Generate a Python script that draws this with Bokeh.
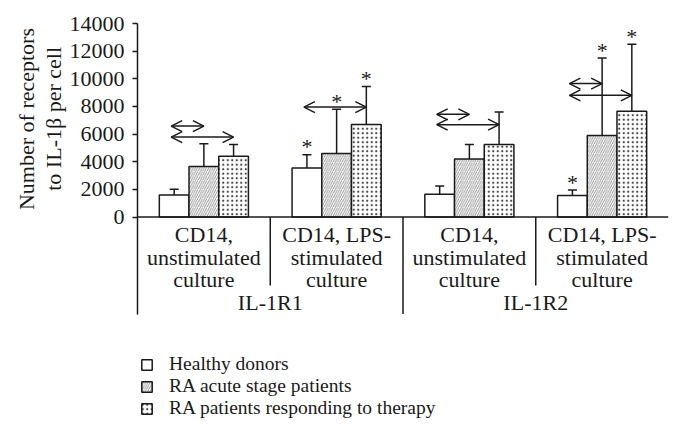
import math
from bokeh.plotting import figure
from bokeh.models import (Range1d, ColumnDataSource, Whisker, TeeHead, Arrow, OpenHead,
                          FixedTicker, Legend, LegendItem, Title, Span)
from bokeh.core.properties import value
from bokeh.embed import file_html
from bokeh.resources import INLINE

# ---------------- data ----------------
categories = ["CD14,\nunstimulated\nculture", "CD14, LPS-\nstimulated\nculture",
              "CD14,\nunstimulated\nculture", "CD14, LPS-\nstimulated\nculture"]
groups = ["IL-1R1", "IL-1R2"]
series = ["Healthy donors", "RA acute stage patients", "RA patients responding to therapy"]

healthy = [1600, 3550, 1650, 1550]
healthy_lower = [1250, 2900, 1400, 1200]
healthy_upper = [2000, 4500, 2250, 1950]

acute = [3650, 4600, 4200, 5900]
acute_lower = [3000, 3500, 2950, 3800]
acute_upper = [5300, 7800, 5250, 11500]

therapy = [4400, 6700, 5250, 7650]
therapy_lower = [3550, 4850, 3550, 4800]
therapy_upper = [5250, 9450, 7600, 12500]

healthy_star = [False, True, False, True]
acute_star = [False, True, False, True]
therapy_star = [False, True, False, True]

# comparison brackets: category index, from series, to series, level
cmp_category = [0, 0, 1, 2, 2, 3, 3]
cmp_from = [0, 0, 0, 0, 0, 0, 0]
cmp_to = [1, 2, 2, 1, 2, 1, 2]
cmp_level = [6580, 5780, 7950, 7430, 6680, 9650, 8800]

y_ticks = [0, 2000, 4000, 6000, 8000, 10000, 12000, 14000]
y_title = ["Number of receptors", "to IL-1\u03b2 per cell"]

# ---------------- layout ----------------
W, H = 682, 446
LEFT, RIGHT, TOP = 137, 14, 23
Y0_PX = 216.5
FONT = "Liberation Serif"
INK = "#1a1a1a"

units_per_px = 14000 / (Y0_PX - TOP)
y_start = -(H - Y0_PX) * units_per_px
frame_w = W - LEFT - RIGHT
x_per_px = 4 / frame_w

p = figure(width=W, height=H, x_range=Range1d(0, 4), y_range=Range1d(y_start, 14000),
           output_backend="svg", toolbar_location=None, x_axis_location=None,
           min_border_left=LEFT, min_border_right=RIGHT, min_border_top=TOP,
           min_border_bottom=0)
p.grid.visible = False
p.outline_line_color = None

ax = p.yaxis[0]
ax.ticker = FixedTicker(ticks=y_ticks)
ax.bounds = (-97 * units_per_px, 14000)
ax.axis_line_width = 1.5
ax.axis_line_color = INK
ax.major_tick_line_color = INK
ax.major_tick_line_width = 1.5
ax.major_tick_out = 5
ax.major_tick_in = 0
ax.minor_tick_out = 0
ax.minor_tick_in = 0
ax.major_label_standoff = 8
ax.major_label_text_font = FONT
ax.major_label_text_font_size = "22px"
ax.major_label_text_color = INK

bar_w = 29.7 * x_per_px
offsets = [-bar_w, 0.0, bar_w]
styles = [
    dict(fill_color="white"),
    dict(fill_color="white", hatch_pattern="/", hatch_scale=4.5, hatch_color="#666666",
         hatch_weight=0.7),
    dict(fill_color="white", hatch_pattern=".", hatch_scale=4.5, hatch_color="#444444",
         hatch_weight=0.5),
]
means = [healthy, acute, therapy]
lowers = [healthy_lower, acute_lower, therapy_lower]
uppers = [healthy_upper, acute_upper, therapy_upper]
stars = [healthy_star, acute_star, therapy_star]

renderers = []
wx, wl, wu = [], [], []
sx, sy = [], []
for s in range(3):
    xs = [i + 0.5 + offsets[s] for i in range(4)]
    r = p.vbar(x=xs, top=means[s], bottom=0, width=bar_w, line_color=INK,
               line_width=1.5, **styles[s])
    renderers.append(r)
    wx += xs
    wl += lowers[s]
    wu += uppers[s]
    for i in range(4):
        if stars[s][i]:
            sx.append(xs[i])
            sy.append(uppers[s][i])

wsrc = ColumnDataSource(dict(base=wx, lower=wl, upper=wu))
p.add_layout(Whisker(base="base", lower="lower", upper="upper", source=wsrc,
                     dimension="height", line_width=1.5, line_color=INK,
                     upper_head=TeeHead(size=9, line_width=1.5, line_color=INK),
                     lower_head=TeeHead(size=9, line_width=1.5, line_color=INK)))

# asterisks
p.text(x=sx, y=sy, text=["*"] * len(sx), text_font=value(FONT), text_font_size="22px",
       text_align="center", text_baseline="alphabetic", y_offset=-8, text_color=INK)

# comparison arrows
ax0 = [c + 0.5 + offsets[f] - 3 * x_per_px for c, f in zip(cmp_category, cmp_from)]
ax1 = [c + 0.5 + offsets[t] for c, t in zip(cmp_category, cmp_to)]
asrc = ColumnDataSource(dict(x0=ax0, x1=ax1, y=cmp_level))
p.add_layout(Arrow(x_start="x0", y_start="y", x_end="x1", y_end="y", source=asrc,
                   line_width=1.5, line_color=INK,
                   start=OpenHead(size=11, line_width=1.5, line_color=INK),
                   end=OpenHead(size=11, line_width=1.5, line_color=INK)))

# x axis line and category dividers
p.add_layout(Span(location=0, dimension="width", line_color=INK, line_width=1.5))
p.segment(x0=[1, 3], y0=[0, 0], x1=[1, 3], y1=[-68.5 * units_per_px] * 2,
          line_color=INK, line_width=1.5)
p.segment(x0=[2], y0=[0], x1=[2], y1=[-97 * units_per_px], line_color=INK, line_width=1.5)

# category labels
p.text(x=[i + 0.5 for i in range(4)], y=[0] * 4, text=categories, text_font=value(FONT),
       text_font_size="22px", text_align="center", text_baseline="middle",
       text_line_height=0.9, y_offset=40, text_color=INK)
p.text(x=[1, 3], y=[0, 0], text=groups, text_font=value(FONT), text_font_size="22px",
       text_align="center", text_baseline="middle", y_offset=85, text_color=INK)

# y-axis title (two lines, nearest line added first)
for t, off in [(y_title[1], 23.5), (y_title[0], 4.5)]:
    p.add_layout(Title(text=t, align="right", offset=off, vertical_align="middle",
                       standoff=0, text_font=FONT, text_font_size="22px",
                       text_font_style="normal", text_color=INK), "left")

# legend: one single-item legend per row
for s, yloc in zip(range(3), [71, 49, 27]):
    lg = Legend(items=[LegendItem(label=series[s], renderers=[renderers[s]])],
                location=(3, yloc), orientation="vertical", glyph_width=13, glyph_height=13,
                label_standoff=16, label_height=20, spacing=0, padding=0, margin=0,
                border_line_color=None, background_fill_alpha=0,
                label_text_font=FONT, label_text_font_size="19.5px", label_text_color=INK)
    p.add_layout(lg)

open("out.html", "w").write(file_html(p, INLINE))
